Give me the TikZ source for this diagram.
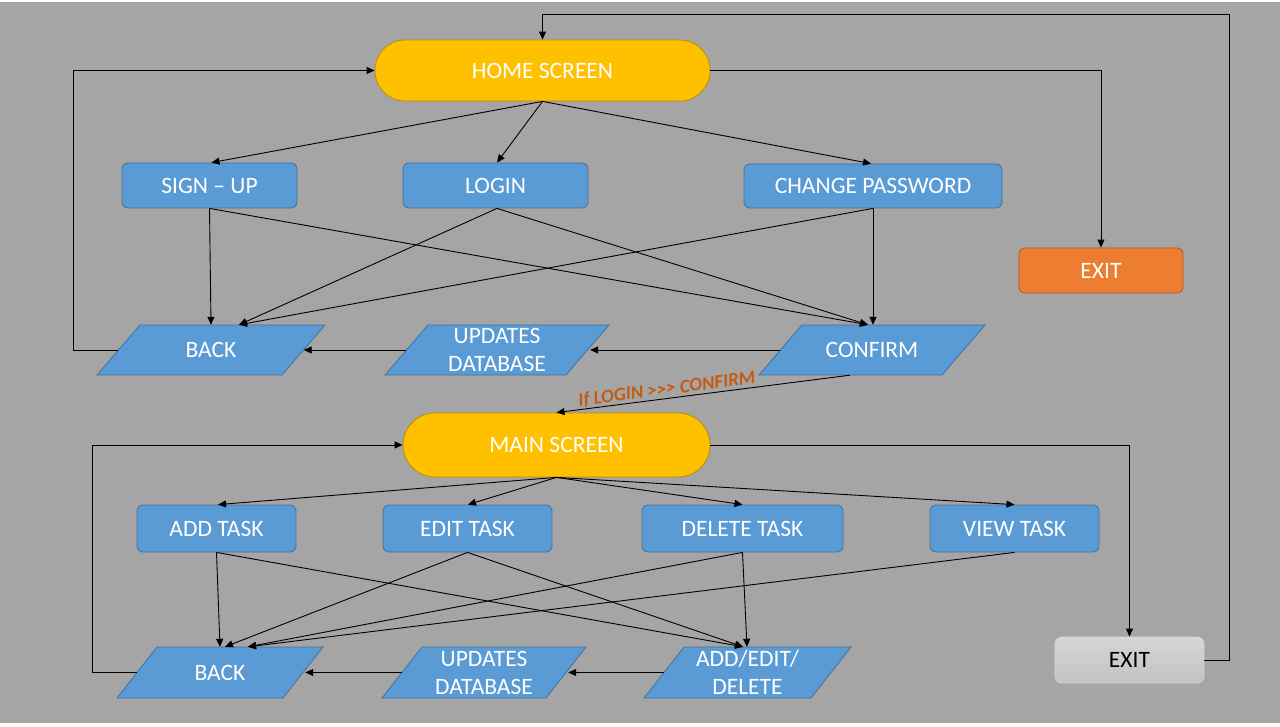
\documentclass[tikz,border=0pt]{standalone}
\usepackage{fontspec}
\setmainfont{Carlito}
\usetikzlibrary{arrows.meta,calc}
\definecolor{bggrey}{HTML}{A5A5A5}
\definecolor{boxblue}{HTML}{5B9BD5}
\definecolor{boxblueline}{HTML}{41719C}
\definecolor{termyellow}{HTML}{FFC000}
\definecolor{termyellowline}{HTML}{BC8C00}
\definecolor{exitorange}{HTML}{ED7D31}
\definecolor{exitorangeline}{HTML}{AE5A21}
\definecolor{labelorange}{HTML}{C55A11}
\definecolor{exitgreytop}{HTML}{D6D6D6}
\definecolor{exitgreybot}{HTML}{C2C2C2}
\newcommand\parabox[7]{%
  \draw[parshape] (#2-#4/2, #3+#5/2) -- (#2+#4/2-#6, #3+#5/2) -- (#2+#4/2, #3-#5/2) -- (#2-#4/2+#6, #3-#5/2) -- cycle;
  \node[partext, minimum width=#4pt, minimum height=#5pt] (#1) at (#2,#3) {#7};}
\begin{document}
\begin{tikzpicture}[x=1pt,y=-1pt,
  every node/.style={font=\fontsize{23.5}{26}\selectfont, inner sep=0pt},
  terminal/.style={fill=termyellow, draw=termyellowline, line width=0.8pt, text=white, rounded corners=30pt},
  procbox/.style={fill=boxblue, draw=boxblueline, line width=0.8pt, text=white, rounded corners=6pt},
  exitbox/.style={fill=exitorange, draw=exitorangeline, line width=0.8pt, text=white, rounded corners=6pt},
  greyexit/.style={top color=exitgreytop, bottom color=exitgreybot, draw=exitgreytop, line width=0.8pt, text=black, rounded corners=7pt},
  parshape/.style={fill=boxblue, draw=boxblueline, line width=0.8pt},
  partext/.style={text=white, align=center, font=\fontsize{23.5}{28}\selectfont},
  arr/.style={draw=black, line width=0.9pt, -{Triangle[length=8pt,width=7pt]}},
  condlabel/.style={text=labelorange, font=\fontsize{19}{21}\selectfont\bfseries\itshape}
]
\useasboundingbox (0,0) rectangle (1280,727);
\fill[white] (0,0) rectangle (1280,727);
\fill[bggrey] (0,2) rectangle (1280,723);

% top section
\node[terminal, minimum width=335pt, minimum height=61pt] (home) at (542.5,70.5) {HOME SCREEN};
\node[procbox, minimum width=175pt, minimum height=45pt] (signup) at (209.5,185.5) {SIGN – UP};
\node[procbox, minimum width=185pt, minimum height=45pt] (login) at (495.5,185.5) {LOGIN};
\node[procbox, minimum width=258pt, minimum height=44pt] (chpw) at (873,186) {CHANGE PASSWORD};
\node[exitbox, minimum width=164pt, minimum height=45pt] (exit1) at (1101,270.5) {EXIT};
\parabox{back1}{211}{350}{228}{50}{43}{BACK}
\parabox{upd1}{497}{350}{224}{50}{43}{UPDATES\\DATABASE}
\parabox{confirm}{872}{350}{226}{50}{43}{CONFIRM}

% bottom section
\node[terminal, rounded corners=32pt, minimum width=307pt, minimum height=64pt] (main) at (556.5,445) {MAIN SCREEN};
\node[procbox, minimum width=159pt, minimum height=47pt] (add) at (216.5,528.5) {ADD TASK};
\node[procbox, minimum width=169pt, minimum height=47pt] (edit) at (467.5,528.5) {EDIT TASK};
\node[procbox, minimum width=201pt, minimum height=47pt] (del) at (742.5,528.5) {DELETE TASK};
\node[procbox, minimum width=169pt, minimum height=47pt] (view) at (1014.5,528.5) {VIEW TASK};
\node[greyexit, minimum width=149pt, minimum height=46pt] (exit2) at (1129.5,660) {EXIT};
\parabox{back2}{220}{672.5}{206}{51}{40}{BACK}
\parabox{upd2}{484}{672.5}{204}{51}{40}{UPDATES\\DATABASE}
\parabox{aed}{747.5}{672.5}{207}{51}{40}{ADD/EDIT/\\DELETE}

% top connectors
\draw[arr] ($(back1.west)+(21.5,0)$) -- ++(-45,0) |- (home.west);
\draw[arr] (home.east) -| (exit1.north);
\draw[arr] (home.south) -- ($(signup.north)+(2,0)$);
\draw[arr] (home.south) -- ($(login.north)+(1.5,0)$);
\draw[arr] (home.south) -- ($(chpw.north)+(-2,0)$);
\draw[arr] (signup.south) -- (back1.north);
\draw[arr] (signup.south) -- ($(confirm.north)+(-4,0)$);
\draw[arr] ($(login.south)+(1.5,0)$) -- ($(back1.north)+(28,0)$);
\draw[arr] ($(login.south)+(1.5,0)$) -- ($(confirm.north)+(-4,0)$);
\draw[arr] (chpw.south) -- ($(back1.north)+(28,0)$);
\draw[arr] (chpw.south) -- ($(confirm.north)+(1,0)$);
\draw[arr] ($(confirm.west)+(21.5,0)$) -- ($(upd1.east)+(-19,0)$);
\draw[arr] ($(upd1.west)+(21.5,0)$) -- ($(back1.east)+(-21.5,0)$);
\draw[arr] ($(confirm.south)+(-22,0)$) -- node[condlabel, sloped, above=1pt, pos=0.62] {If LOGIN >{}>{}> CONFIRM} (main.north);

% bottom connectors
\draw[arr] ($(back2.west)+(20,0)$) -- ++(-44,0) |- (main.west);
\draw[arr] (main.east) -| (exit2.north);
\draw[arr] (exit2.east) -- ++(25,0) |- ($(home.north)+(0,-25)$) -- (home.north);
\draw[arr] (main.south) -- ($(add.north)+(1.5,0)$);
\draw[arr] (main.south) -- ($(edit.north)+(0.5,0)$);
\draw[arr] (main.south) -- (del.north);
\draw[arr] (main.south) -- (view.north);
\draw[arr] (add.south) -- (back2.north);
\draw[arr] (add.south) -- ($(aed.north)+(-4.5,0)$);
\draw[arr] (edit.south) -- ($(back2.north)+(5,0)$);
\draw[arr] (edit.south) -- ($(aed.north)+(-4.5,0)$);
\draw[arr] (del.south) -- ($(back2.north)+(28,0)$);
\draw[arr] (del.south) -- ($(aed.north)+(-0.5,0)$);
\draw[arr] (view.south) -- ($(back2.north)+(28,0)$);
\draw[arr] ($(aed.west)+(20,0)$) -- ($(upd2.east)+(-18,0)$);
\draw[arr] ($(upd2.west)+(20,0)$) -- ($(back2.east)+(-18,0)$);
\end{tikzpicture}
\end{document}
